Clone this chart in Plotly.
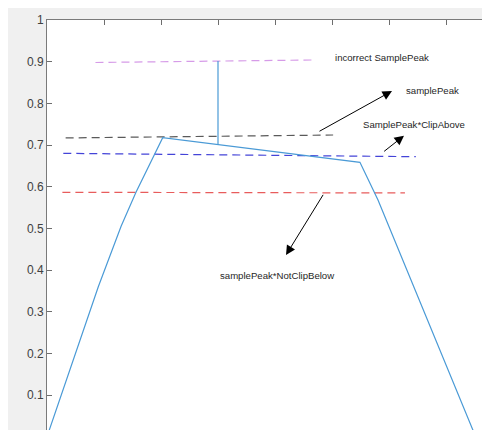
import plotly.graph_objects as go

# ---- data ----
signal_x = [0.0, 0.9, 1.3, 1.561, 2.03, 5.49, 5.807, 7.52]
signal_y = [0.0, 0.36, 0.505, 0.5865, 0.7175, 0.6585, 0.568, 0.0]

# vertical "incorrect" segment
stem_x = [3.0, 3.0]
stem_y = [0.701, 0.9016]

# hand-drawn dashed reference levels (start / end)
incorrect_x = [0.85, 4.67]
incorrect_y = [0.898, 0.904]
samplepeak_x = [0.327, 5.02]
samplepeak_y = [0.717, 0.724]
clipabove_x = [0.286, 6.47]
clipabove_y = [0.680, 0.672]
notclip_x = [0.27, 6.28]
notclip_y = [0.5865, 0.585]

labels = ["incorrect SamplePeak", "samplePeak", "SamplePeak*ClipAbove", "samplePeak*NotClipBelow"]

fig = go.Figure()

dash = "8px,5px"
for xs, ys, col in [
    (incorrect_x, incorrect_y, "#d69be8"),
    (samplepeak_x, samplepeak_y, "#5a5a5a"),
    (clipabove_x, clipabove_y, "#4444d8"),
    (notclip_x, notclip_y, "#e85c5c"),
]:
    fig.add_trace(go.Scatter(x=xs, y=ys, mode="lines",
                             line=dict(color=col, width=1.2, dash=dash),
                             hoverinfo="skip", showlegend=False))

fig.add_trace(go.Scatter(x=signal_x, y=signal_y, mode="lines",
                         line=dict(color="#4a9ad6", width=1.2), showlegend=False))
fig.add_trace(go.Scatter(x=stem_x, y=stem_y, mode="lines",
                         line=dict(color="#4a9ad6", width=1.2), showlegend=False))

font_txt = dict(family="Liberation Sans, Arial", size=9.6, color="#262626")
# text labels
for txt, x, y in [
    (labels[0], 5.012, 0.9105),
    (labels[1], 6.263, 0.830),
    (labels[2], 5.509, 0.7497),
    (labels[3], 3.005, 0.3864),
]:
    fig.add_annotation(x=x, y=y, text=txt, showarrow=False, xanchor="left",
                       yanchor="middle", font=font_txt)

# arrows
for (tx, ty, hx, hy) in [
    (4.754, 0.731, 6.053, 0.8296),
    (5.889, 0.682, 6.263, 0.7223),
    (4.86, 0.584, 4.193, 0.436),
]:
    fig.add_annotation(x=hx, y=hy, ax=tx, ay=ty, xref="x", yref="y",
                       axref="x", ayref="y", text="", showarrow=True,
                       arrowhead=2, arrowsize=1.9, arrowwidth=1,
                       arrowcolor="#000000")

fig.update_layout(
    width=490, height=430,
    margin=dict(l=39, r=8, t=12, b=8, autoexpand=False),
    paper_bgcolor="#f0f0f0",
    plot_bgcolor="white",
    showlegend=False,
    xaxis=dict(range=[0, 443 / 57], side="top", showticklabels=False,
               ticks="inside", ticklen=5, tickcolor="#6e6e6e", tick0=0, dtick=1,
               showline=True, linecolor="#7a7a7a", linewidth=1,
               showgrid=False, zeroline=False),
    yaxis=dict(range=[(436.7 - 430) / 416.7, 1.0], ticks="inside", ticklen=5,
               tickcolor="#6e6e6e", tick0=0, dtick=0.1,
               showline=True, linecolor="#7a7a7a", linewidth=1,
               showgrid=False, zeroline=False,
               tickfont=dict(family="Liberation Sans, Arial", size=12, color="#404040")),
)

fig.write_html("out.html")
